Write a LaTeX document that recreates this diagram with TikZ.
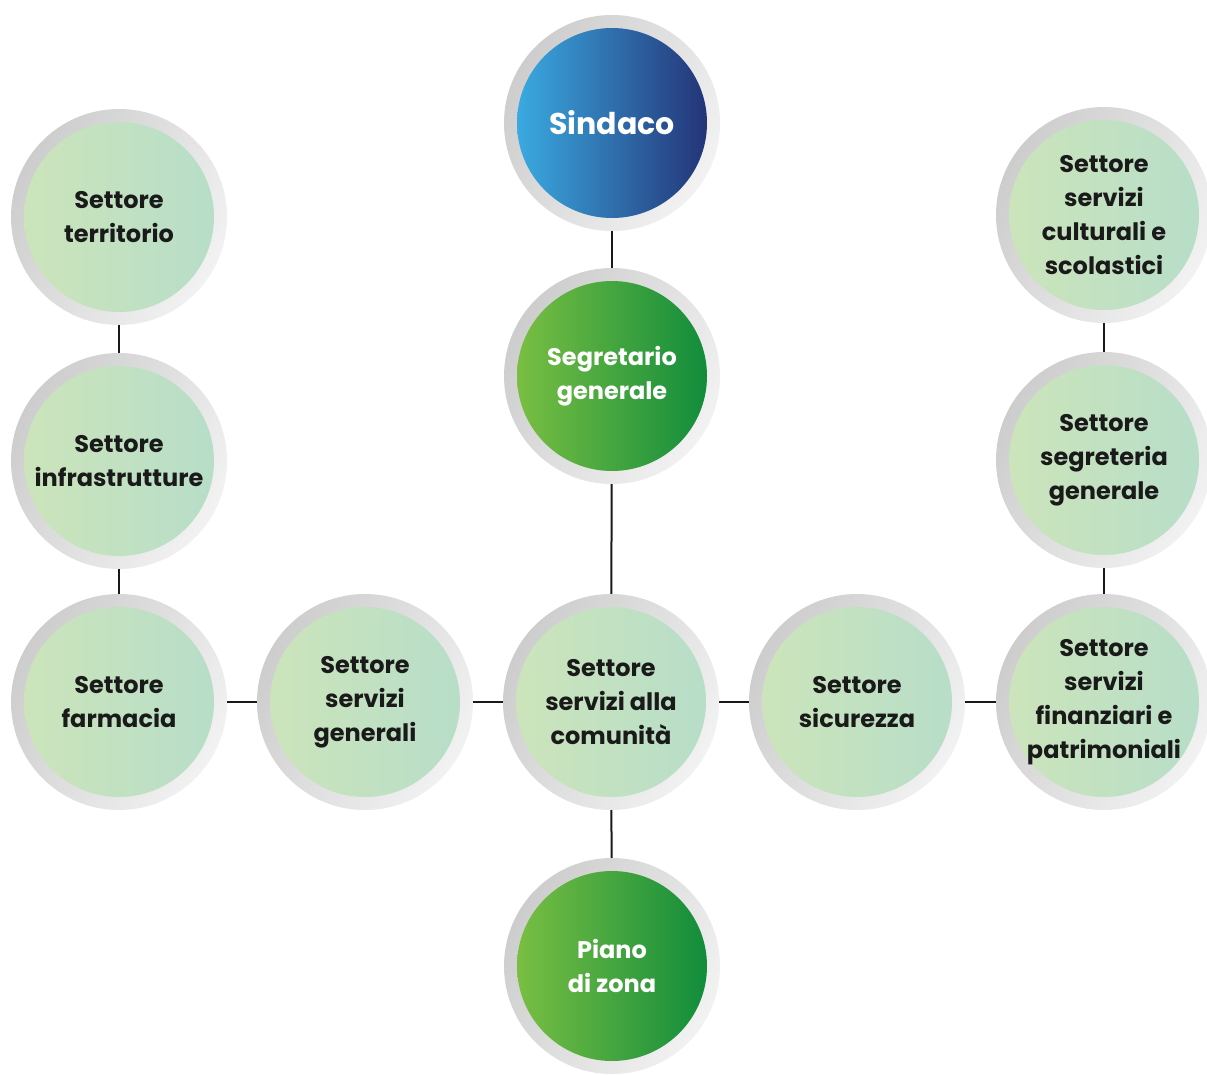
\documentclass[tikz,border=0pt]{standalone}
\usepackage{fontspec}
\setmainfont{Poppins}
\usetikzlibrary{shadings}
\definecolor{lgL}{HTML}{CDE5BA}
\definecolor{lgR}{HTML}{B6DDC9}
\definecolor{dgL}{HTML}{80C243}
\definecolor{dgR}{HTML}{0A893B}
\definecolor{blL}{HTML}{3CB2E8}
\definecolor{blR}{HTML}{222C70}
\definecolor{ringD}{HTML}{CDCDCD}
\definecolor{ringL}{HTML}{F2F2F2}
\definecolor{txt}{HTML}{1A1A1A}
\begin{document}
\begin{tikzpicture}[x=1pt,y=-1pt,
  orgnode/.style={circle, minimum size=216pt, inner sep=0pt, align=center,
    left color=ringD, right color=ringL, shading angle=60, draw=none,
    font=\bfseries\fontsize{24}{34}\selectfont},
  light/.style={orgnode, text=txt,
    path picture={\shade[left color=lgL, right color=lgR]
      (path picture bounding box.center) circle (95pt);}},
  dgreen/.style={orgnode, text=white,
    path picture={\shade[left color=dgL, right color=dgR]
      (path picture bounding box.center) circle (95pt);}},
  blue/.style={orgnode, text=white,
    path picture={\shade[left color=blL, right color=blR]
      (path picture bounding box.center) circle (95pt);}},
  link/.style={draw=black!90, line width=2pt}
]
\useasboundingbox (0,0) rectangle (1207,1074);
\fill[white] (0,0) rectangle (1207,1074);

\node[blue, font=\bfseries\fontsize{30}{34}\selectfont] (sindaco) at (612,123) {Sindaco};
\node[dgreen] (segretario) at (612,376) {Segretario\\generale};
\node[light] (comunita) at (611,702) {Settore\\servizi alla\\comunità};
\node[dgreen] (piano) at (612,966) {Piano\\di zona};

\node[light] (territorio) at (119,217) {Settore\\territorio};
\node[light] (infra) at (119,461) {Settore\\infrastrutture};
\node[light] (farmacia) at (119,702) {Settore\\farmacia};
\node[light] (generali) at (365,702) {Settore\\servizi\\generali};

\node[light] (sicurezza) at (857,702) {Settore\\sicurezza};
\node[light] (finanziari) at (1104,702) {Settore\\servizi\\finanziari e\\patrimoniali};
\node[light] (culturali) at (1104,215) {Settore\\servizi\\culturali e\\scolastici};
\node[light] (segreteria) at (1104,460) {Settore\\segreteria\\generale};

\draw[link] (sindaco) -- (segretario);
\draw[link] (segretario) -- (comunita);
\draw[link] (comunita) -- (piano);
\draw[link] (comunita) -- (generali);
\draw[link] (generali) -- (farmacia);
\draw[link] (comunita) -- (sicurezza);
\draw[link] (sicurezza) -- (finanziari);
\draw[link] (farmacia) -- (infra);
\draw[link] (infra) -- (territorio);
\draw[link] (finanziari) -- (segreteria);
\draw[link] (segreteria) -- (culturali);
\end{tikzpicture}
\end{document}
